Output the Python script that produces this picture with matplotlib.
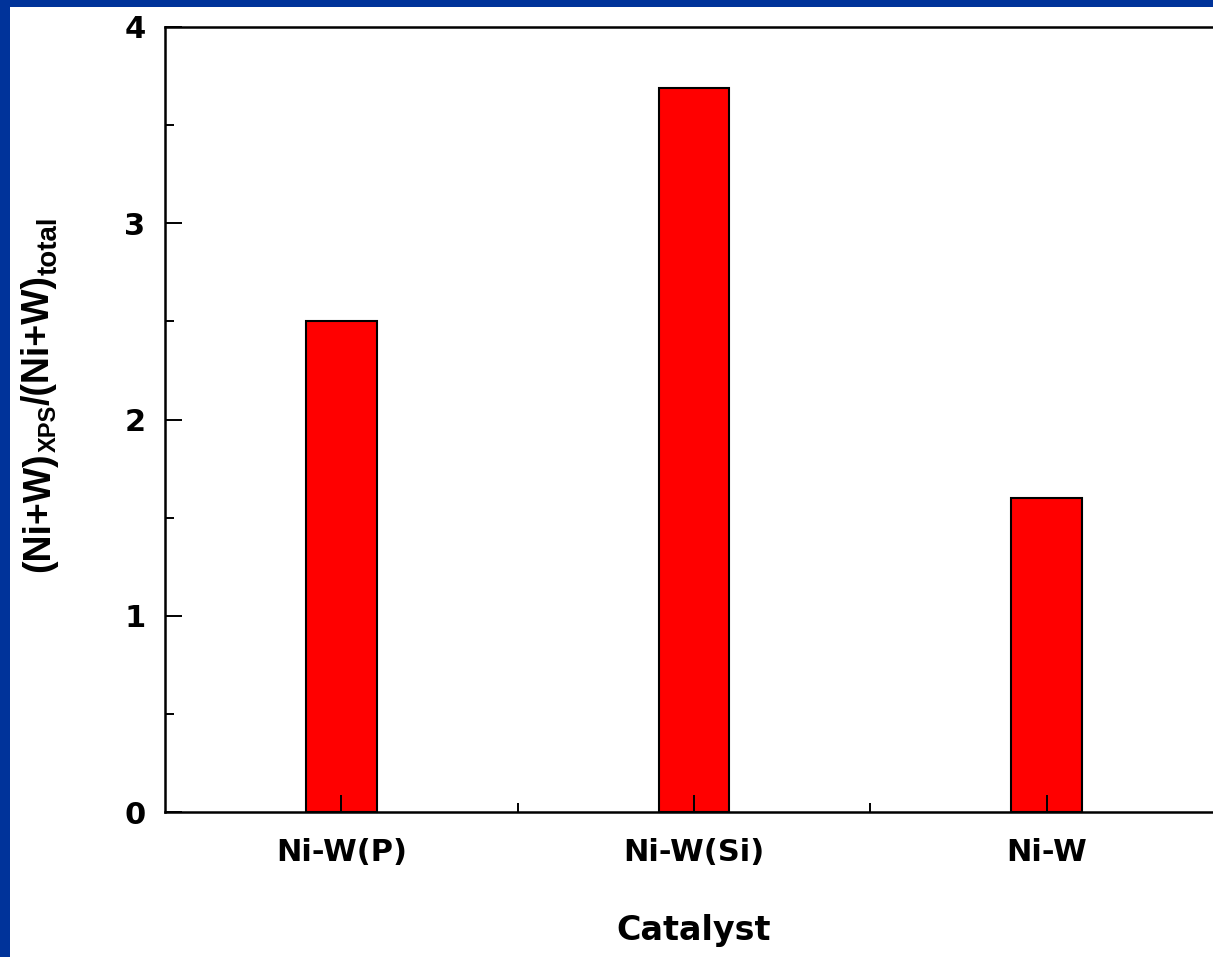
import matplotlib
matplotlib.use("Agg")
import matplotlib.pyplot as plt
from matplotlib.patches import Rectangle
from matplotlib.transforms import IdentityTransform
from matplotlib.ticker import MultipleLocator, FixedLocator

categories = ["Ni-W(P)", "Ni-W(Si)", "Ni-W"]
ratio_values = [2.50, 3.69, 1.60]
y_ticks = [0, 1, 2, 3, 4]
ylabel_parts = [("(Ni+W)", "main"), ("XPS", "sub1"), ("/(Ni+W)", "main"), ("total", "sub2")]

W, H = 1213, 957
fig = plt.figure(figsize=(W / 100, H / 100), dpi=100)
fig.patch.set_facecolor('#00339A')
fig.patches.append(Rectangle((10 / W, 0), 1 - 10 / W, (H - 7) / H,
                             transform=fig.transFigure, facecolor='white',
                             edgecolor='none', zorder=-10))

ax = fig.add_axes([165 / W, (H - 812) / H, 1058 / W, 785 / H])
ax.set_zorder(1)
ax.set_facecolor('white')

x = list(range(1, len(categories) + 1))
ax.bar(x, ratio_values, width=0.2, color='#FF0000', edgecolor='black',
       linewidth=1.5, zorder=1)

ax.set_xlim(0.5, len(categories) + 0.5)
ax.set_ylim(0, 4)
ax.set_xticks(x)
ax.set_xticklabels(categories)
ax.xaxis.set_minor_locator(FixedLocator([1.5, 2.5]))
ax.set_yticks(y_ticks)
ax.yaxis.set_minor_locator(MultipleLocator(0.5))

for s in ax.spines.values():
    s.set_linewidth(1.8)

ax.tick_params(axis='both', which='major', direction='in', length=12, width=1.4,
               labelsize=22)
ax.tick_params(axis='both', which='minor', direction='in', length=6.5, width=1.4)
ax.tick_params(axis='x', which='major', pad=19)
ax.tick_params(axis='y', which='major', pad=14)
ax.tick_params(top=False, right=False, which='both')
for lab in ax.get_xticklabels() + ax.get_yticklabels():
    lab.set_fontweight('bold')
    lab.set_family('DejaVu Sans')

ax.set_xlabel('Catalyst', fontsize=24, fontweight='bold', family='DejaVu Sans')
ax.xaxis.set_label_coords(0.5, -0.13)

# y label built from pieces (main text + subscripts), rotated 90 degrees
styles = {"main": (27, 0), "sub1": (17, 7), "sub2": (20, 8)}
renderer = fig.canvas.get_renderer()
base_x = 49
cur_y = H - 572
for txt, kind in ylabel_parts:
    size, shift = styles[kind]
    t = fig.text(base_x + shift, cur_y, txt, transform=IdentityTransform(),
                 rotation=90, rotation_mode='anchor', ha='left', va='baseline',
                 fontsize=size, fontweight='bold', family='Liberation Sans')
    ext = t.get_window_extent(renderer=renderer)
    cur_y += ext.height

fig.savefig('out.png', dpi=100, facecolor=fig.get_facecolor())
